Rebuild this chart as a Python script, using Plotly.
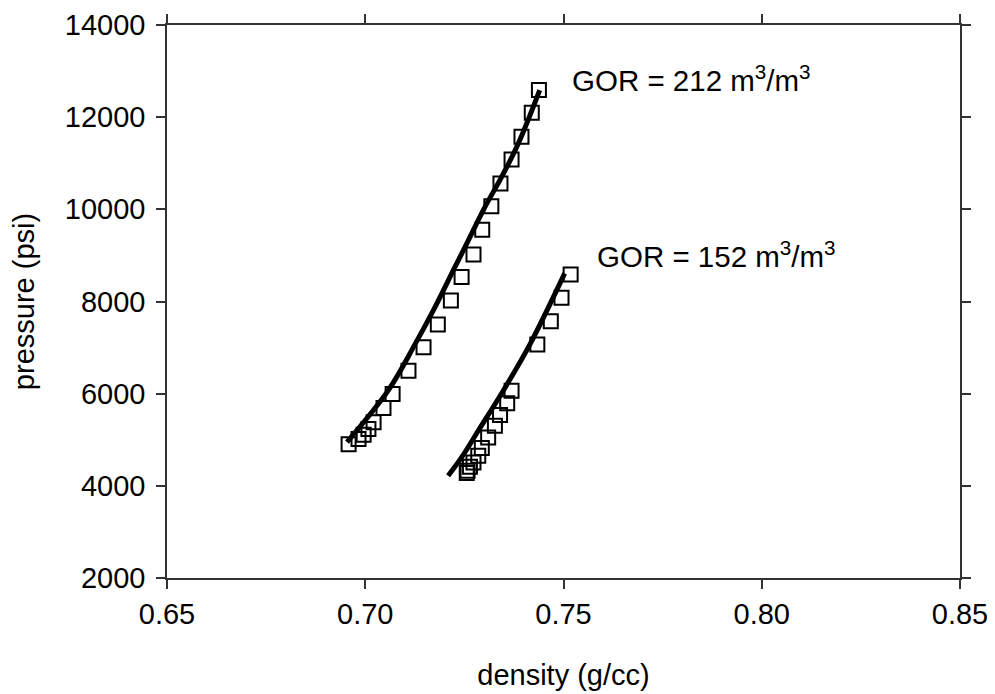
import plotly.graph_objects as go

# GOR = 212 m3/m3 : measured points
dens_212 = [0.7438, 0.7420, 0.7394, 0.7369, 0.7341, 0.7318, 0.7295, 0.7273, 0.7243, 0.7216,
            0.7183, 0.7147, 0.7109, 0.7069, 0.7046, 0.7021, 0.7008, 0.6996, 0.6983, 0.6958]
pres_212 = [12587, 12096, 11574, 11080, 10559, 10065, 9558, 9022, 8530, 8022,
            7500, 7008, 6500, 5993, 5689, 5378, 5232, 5108, 5015, 4900]
# GOR = 212 model line
line_dens_212 = [0.6954, 0.7058, 0.7126, 0.7176, 0.7222, 0.7260, 0.7302, 0.7344, 0.7386, 0.7440]
line_pres_212 = [4950, 6071, 7080, 7878, 8674, 9326, 10052, 10704, 11428, 12587]

# GOR = 152 m3/m3 : measured points
dens_152 = [0.7518, 0.7495, 0.7468, 0.7434, 0.7369, 0.7358, 0.7340, 0.7327, 0.7310, 0.7294,
            0.7285, 0.7273, 0.7264, 0.7258, 0.7256]
pres_152 = [8587, 8080, 7573, 7065, 6065, 5790, 5537, 5304, 5051, 4819,
            4652, 4508, 4413, 4326, 4280]
# GOR = 152 model line
line_dens_152 = [0.7209, 0.7243, 0.7285, 0.7348, 0.7415, 0.7503]
line_pres_152 = [4217, 4616, 5195, 6065, 7065, 8610]

labels = ["GOR = 212 m<sup>3</sup>/m<sup>3</sup>", "GOR = 152 m<sup>3</sup>/m<sup>3</sup>"]
label_x = [0.7516, 0.7579]
label_y = [12850, 9030]

FONT = "Liberation Sans, Arial, sans-serif"
FS = 29

fig = go.Figure()
for ld, lp in [(line_dens_212, line_pres_212), (line_dens_152, line_pres_152)]:
    fig.add_trace(go.Scatter(x=ld, y=lp, mode="lines", line=dict(color="black", width=5, shape="spline"),
                             showlegend=False, hoverinfo="skip"))
for d, p in [(dens_212, pres_212), (dens_152, pres_152)]:
    fig.add_trace(go.Scatter(x=d, y=p, mode="markers",
                             marker=dict(symbol="square-open", size=14, color="black", line=dict(width=2)),
                             showlegend=False))

for t, x, y in zip(labels, label_x, label_y):
    fig.add_annotation(x=x, y=y, text=t, showarrow=False, xanchor="left", yanchor="middle",
                       font=dict(family=FONT, size=29.5, color="black"))

axis_common = dict(showline=True, linecolor="#333333", linewidth=1.5, mirror="ticks", ticks="outside",
                   ticklen=9, tickwidth=1.5, tickcolor="#333333", showgrid=False, zeroline=False,
                   automargin=False, ticklabeloverflow="allow",
                   tickfont=dict(family=FONT, size=FS, color="black"))

# the page body adds an 8 px offset, so margins are trimmed on the left/top
fig.update_layout(
    width=995, height=694,
    margin=dict(l=159, r=43, t=17, b=124),
    paper_bgcolor="white", plot_bgcolor="white",
    xaxis=dict(range=[0.65, 0.85], tickvals=[0.65, 0.70, 0.75, 0.80, 0.85], tickformat=".2f",
               title=dict(text="density (g/cc)", font=dict(family=FONT, size=FS, color="black"), standoff=36),
               **axis_common),
    yaxis=dict(range=[2000, 14000], tickvals=[2000, 4000, 6000, 8000, 10000, 12000, 14000], tickformat="d",
               ticklabelstandoff=5,
               title=dict(text="pressure (psi)", font=dict(family=FONT, size=FS, color="black"), standoff=24),
               **axis_common),
)

fig.write_html("out.html")
